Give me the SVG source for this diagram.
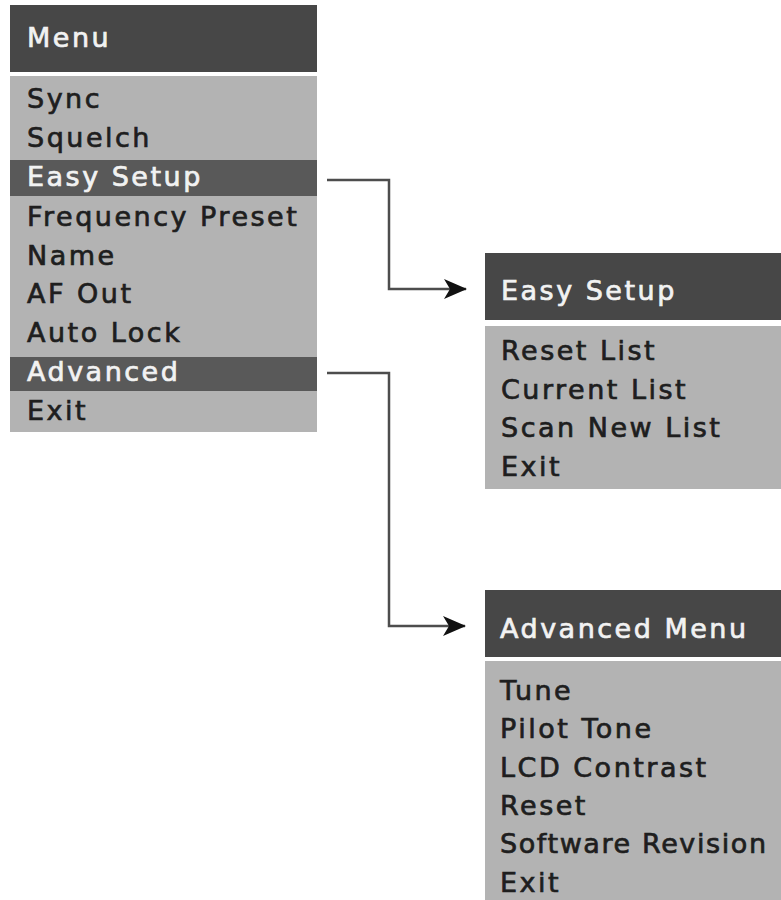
<svg xmlns="http://www.w3.org/2000/svg" width="781" height="900" viewBox="0 0 781 900">
<defs>
<style>
.hdr{fill:#474747}
.body{fill:#b3b3b3}
.hl{fill:#595959}
text{font-family:"DejaVu Sans","Liberation Sans",sans-serif;font-size:27px;letter-spacing:2.5px;stroke-width:0.7px}
.w{fill:#f2f2f2;stroke:#f2f2f2}
.k{fill:#1e1e1e;stroke:#1e1e1e}
.conn{fill:none;stroke:#4d4d4d;stroke-width:2.5}
</style>
<marker id="ah" viewBox="0 0 24 24" refX="22" refY="12" markerWidth="24" markerHeight="24" markerUnits="userSpaceOnUse" orient="auto">
<path d="M0,2 L23,12 L0,22 L6,12 Z" fill="#111"/>
</marker>
</defs>
<rect width="781" height="900" fill="#fff"/>
<g id="menu">
<rect class="hdr" x="10" y="5" width="307" height="67"/>
<rect class="body" x="10" y="76" width="307" height="356"/>
<rect class="hl" x="10" y="160" width="307" height="36"/>
<rect class="hl" x="10" y="357" width="307" height="34"/>
<text class="w" x="27" y="47">Menu</text>
<text class="k" x="27" y="108">Sync</text>
<text class="k" x="27" y="147">Squelch</text>
<text class="w" x="27" y="186">Easy Setup</text>
<text class="k" x="27" y="226">Frequency Preset</text>
<text class="k" x="27" y="265">Name</text>
<text class="k" x="27" y="303">AF Out</text>
<text class="k" x="27" y="342">Auto Lock</text>
<text class="w" x="27" y="381">Advanced</text>
<text class="k" x="27" y="420">Exit</text>
</g>
<g id="easy-setup">
<rect class="hdr" x="485" y="253" width="296" height="67"/>
<rect class="body" x="485" y="326" width="296" height="163"/>
<text class="w" x="501" y="300">Easy Setup</text>
<text class="k" x="501" y="360">Reset List</text>
<text class="k" x="501" y="399">Current List</text>
<text class="k" x="501" y="437">Scan New List</text>
<text class="k" x="501" y="476">Exit</text>
</g>
<g id="advanced-menu">
<rect class="hdr" x="485" y="590" width="296" height="67"/>
<rect class="body" x="485" y="661" width="296" height="239"/>
<text class="w" x="500" y="638">Advanced Menu</text>
<text class="k" x="500" y="700">Tune</text>
<text class="k" x="500" y="738">Pilot Tone</text>
<text class="k" x="500" y="777">LCD Contrast</text>
<text class="k" x="500" y="815">Reset</text>
<text class="k" x="500" y="853" style="letter-spacing:1.6px">Software Revision</text>
<text class="k" x="500" y="892">Exit</text>
</g>
<g id="connectors">
<path class="conn" d="M327,180 H389 V289 H466" marker-end="url(#ah)"/>
<path class="conn" d="M327,373 H389 V626 H465" marker-end="url(#ah)"/>
</g>
</svg>
